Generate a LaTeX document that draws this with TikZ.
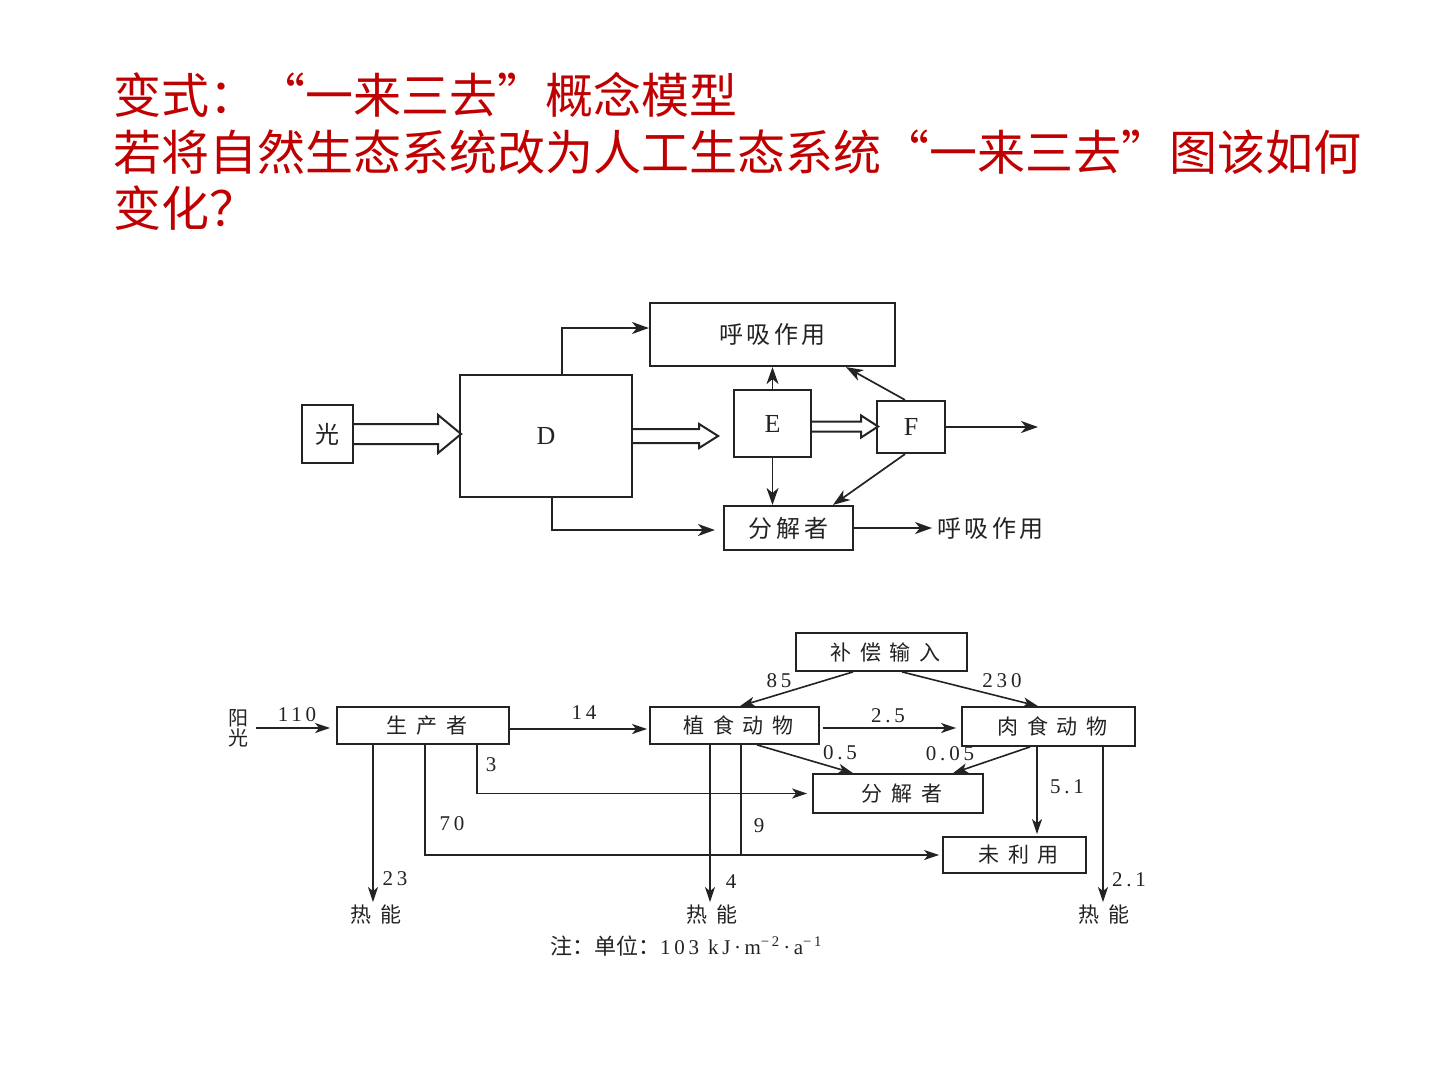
\documentclass[tikz,border=0pt]{standalone}
\usepackage{fontspec}
\usetikzlibrary{arrows.meta,calc}
\newfontfamily\cjk{Noto Sans CJK SC}
\newfontfamily\cjkA[LetterSpace=15]{Noto Sans CJK SC}
\newfontfamily\cjkB[LetterSpace=42]{Noto Sans CJK SC}
\newfontfamily\numf[LetterSpace=18]{Liberation Serif}
\newfontfamily\letf{Liberation Serif}
\definecolor{titlered}{RGB}{192,0,0}
\definecolor{ink}{RGB}{35,35,35}
\tikzset{
  title/.style={anchor=west, inner sep=0pt, text=titlered, font=\cjk\fontsize{48}{56}\selectfont},
  box1/.style={draw=ink, line width=2.2pt, inner sep=0pt, text=ink, font=\cjkA\fontsize{24}{24}\selectfont},
  letbox/.style={box1, font=\letf\fontsize{26}{26}\selectfont},
  box2/.style={draw=ink, line width=1.8pt, inner sep=0pt, text=ink, font=\cjkB\fontsize{21}{21}\selectfont},
  arr1/.style={draw=ink, line width=1.7pt, -{Stealth[length=17pt,width=12pt,inset=5pt]}},
  arr2/.style={draw=ink, line width=1.6pt, -{Stealth[length=15pt,width=10pt,inset=4pt]}},
  ln2/.style={draw=ink, line width=1.6pt},
  hollow/.style={draw=ink, line width=2pt, line join=miter},
  num/.style={font=\numf\fontsize{21}{21}\selectfont, text=ink, inner sep=1pt},
  plain/.style={text=ink, inner sep=3pt, font=\cjkB\fontsize{21}{21}\selectfont},
}
\begin{document}
\begin{tikzpicture}[x=1pt,y=-1pt]
\path[use as bounding box, fill=white] (0,0) rectangle (1440,1080);

% ---------- title ----------
\node[title] (t1) at (113,95) {变式：“一来三去”概念模型};
\node[title] (t2) at (113,152) {若将自然生态系统改为人工生态系统“一来三去”图该如何};
\node[title] (t3) at (113,208) {变化？};

% ---------- upper diagram ----------
\node[box1, minimum width=51pt, minimum height=58pt] (g) at (327.5,434) {光};
\node[letbox, minimum width=172pt, minimum height=122pt] (D) at (546,436) {D};
\node[box1, minimum width=245pt, minimum height=63pt] (hx1) at (772.5,334.5) {呼吸作用};
\node[letbox, minimum width=77pt, minimum height=67pt] (E) at (772.5,423.5) {E};
\node[letbox, minimum width=68pt, minimum height=52pt] (F) at (911,427) {F};
\node[box1, minimum width=129pt, minimum height=44pt] (fj1) at (788.5,528) {分解者};
\node[anchor=west, inner sep=3pt, text=ink, font=\cjkA\fontsize{24}{24}\selectfont] (hx2) at (934,528) {呼吸作用};
\coordinate (Fout) at (1038,427);

% hollow arrows
\draw[hollow] ($(g.east)+(0,-10)$) -- ++(84,0) -- ++(0,-9) -- ++(23,19) -- ++(-23,19) -- ++(0,-9) -- ++(-84,0);
\draw[hollow] ($(D.east)+(0,-7)$) -- ++(66,0) -- ++(0,-5) -- ++(19,12) -- ++(-19,12) -- ++(0,-5) -- ++(-66,0);
\draw[hollow] ($(E.east)+(0,-2)$) -- ++(49,0) -- ++(0,-6) -- ++(17,11) -- ++(-17,11) -- ++(0,-6) -- ++(-49,0);

% plain arrows
\draw[arr1] (D.north -| 562,0) |- (hx1.west |- 0,328);
\draw[arr1, shorten >=8pt] (D.south -| 552,0) |- (fj1.west |- 0,530);
\draw[arr1] (E.north) -- (E.north |- hx1.south);
\draw[arr1] (E.south) -- (E.south |- fj1.north);
\draw[arr1] (F.north -| 905,0) -- (hx1.south -| 846,0);
\draw[arr1] (F.south -| 905,0) -- (fj1.north -| 833,0);
\draw[arr1] (F.east) -- (Fout);
\draw[arr1, shorten >=2pt] (fj1.east) -- (hx2.west);

% ---------- lower diagram ----------
\node[plain, align=center, font=\cjk\fontsize{20}{20}\selectfont] (sun) at (238,728) {阳\\光};
\node[box2, minimum width=172pt, minimum height=37pt] (sc) at (423,725.5) {\hspace{8pt}生产者};
\node[box2, minimum width=169pt, minimum height=37pt] (zs) at (734.5,725.5) {\hspace{8pt}植食动物};
\node[box2, minimum width=173pt, minimum height=39pt] (ru) at (1048.5,726.5) {\hspace{8pt}肉食动物};
\node[box2, minimum width=171pt, minimum height=38pt] (bc) at (881.5,652) {\hspace{8pt}补偿输入};
\node[box2, minimum width=170pt, minimum height=39pt] (fj) at (898,793.5) {\hspace{8pt}分解者};
\node[box2, minimum width=143pt, minimum height=36pt] (wl) at (1014.5,855) {\hspace{8pt}未利用};
\node[plain] (rn1) at (376,915) {热能};
\node[plain] (rn2) at (712,915) {热能};
\node[plain] (rn3) at (1104,915) {热能};
\coordinate (j9) at (741,855);

\draw[arr2, shorten <=5pt, shorten >=6pt] (sun.east |- 0,728) -- (sc.west |- 0,728);
\node[num] (l110) at (297,715) {110};
\draw[arr2, shorten >=2pt] (sc.east |- 0,729) -- (zs.west |- 0,729);
\node[num] (l14) at (584,713) {14};
\draw[arr2] (bc.south -| 853,0) -- (zs.north -| 740,0);
\node[num] (l85) at (779,681) {85};
\draw[arr2] (bc.south -| 902,0) -- (ru.north -| 1038,0);
\node[num] (l230) at (1002,681) {230};
\draw[arr2, shorten <=3pt, shorten >=5pt] (zs.east |- 0,728) -- (ru.west |- 0,728);
\node[num] (l25) at (888,716) {2.5};
\draw[arr2] (zs.south -| 757,0) -- (fj.north -| 853,0);
\node[num] (l05) at (840,753) {0.5};
\draw[arr2] (ru.south -| 1030,0) -- (fj.north -| 953,0);
\node[num] (l005) at (950,754) {0.05};
\draw[arr2] (sc.south -| 373,0) -- (rn1.north -| 373,0);
\node[num] (l23) at (395,879) {23};
\draw[arr2, shorten >=3pt] (sc.south -| 425,0) |- (wl.west);
\node[num] (l70) at (452,824) {70};
\draw[arr2, shorten >=5pt] (sc.south -| 477,0) |- (fj.west);
\node[num] (l3) at (491,765) {3};
\draw[arr2] (zs.south -| 710,0) -- (rn2.north -| 710,0);
\node[num] (l4) at (731,882) {4};
\draw[ln2] (zs.south -| 741,0) -- (j9);
\node[num] (l9) at (759,826) {9};
\draw[arr2, shorten >=2pt] (ru.south -| 1037,0) -- (wl.north -| 1037,0);
\node[num] (l51) at (1067,787) {5.1};
\draw[arr2] (ru.south -| 1103,0) -- (rn3.north -| 1103,0);
\node[num] (l21) at (1129,880) {2.1};

\node[text=ink, inner sep=0pt] (note) at (686,946) {{\cjk\fontsize{22}{22}\selectfont 注：单位：}{\numf\fontsize{21}{21}\selectfont 103 kJ\,·\,m\textsuperscript{−2}\,·\,a\textsuperscript{−1}}};
\end{tikzpicture}
\end{document}
